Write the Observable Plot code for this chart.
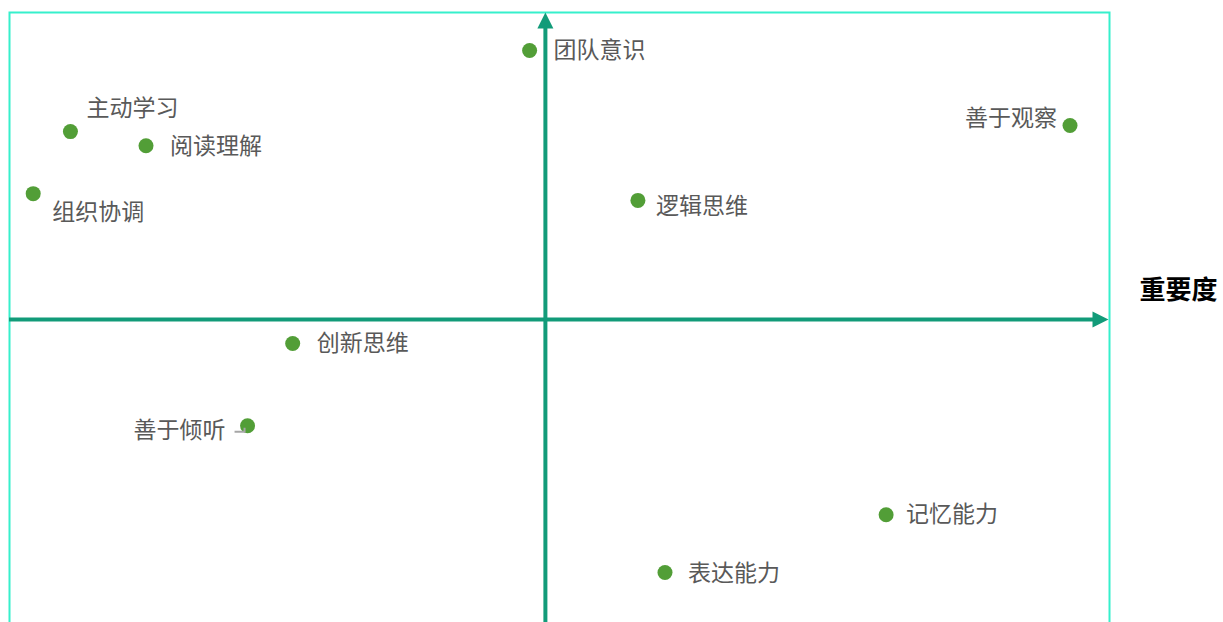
<!DOCTYPE html>
<html>
<head>
<meta charset="utf-8">
<script src="https://cdn.jsdelivr.net/npm/d3@7"></script>
<script src="https://cdn.jsdelivr.net/npm/@observablehq/plot@0.6"></script>
<style>
  html, body { margin: 0; padding: 0; background: #fff; }
  #chart { width: 1223px; height: 622px; overflow: hidden; }
</style>
</head>
<body>
<div id="chart"></div>
<script>
// ---- data ----
const skills = ["团队意识", "主动学习", "阅读理解", "组织协调", "善于观察", "逻辑思维", "创新思维", "善于倾听", "记忆能力", "表达能力"];
const xValues = [-0.14, -4.21, -3.54, -4.54, 4.65, 0.82, -2.24, -2.64, 3.02, 1.06];
const yValues = [4.38, 3.06, 2.83, 2.05, 3.16, 1.94, -0.39, -1.73, -3.18, -4.12];
const xDomain = [-4.75, 5];
const yDomain = [-5, 5];
const axisLabel = "重要度";

// ---- label placement (style, kept apart from data) ----
const placement = {
  "团队意识": {anchor: "start", dx: 24, dy: 0},
  "主动学习": {anchor: "start", dx: 16, dy: -23},
  "阅读理解": {anchor: "start", dx: 24, dy: 1},
  "组织协调": {anchor: "start", dx: 19, dy: 19},
  "善于观察": {anchor: "end", dx: -13, dy: -7},
  "逻辑思维": {anchor: "start", dx: 18, dy: 6},
  "创新思维": {anchor: "start", dx: 24, dy: 0},
  "善于倾听": {anchor: "end", dx: -22, dy: 5, leader: true},
  "记忆能力": {anchor: "start", dx: 20, dy: 0},
  "表达能力": {anchor: "start", dx: 23, dy: 1}
};

const data = skills.map((name, i) => ({name, x: xValues[i], y: yValues[i]}));

const axisColor = "#129b79";
const frameColor = "#36f0cc";
const dotColor = "#529e37";
const font = "'Noto Sans CJK SC', 'Noto Sans', sans-serif";

// filled arrowhead symbol, tip at origin pointing to +x
const arrowHead = {
  draw(context, size) {
    const r = Math.sqrt(size / Math.PI);
    context.moveTo(0, 0);
    context.lineTo(-2 * r, -r);
    context.lineTo(-2 * r, r);
    context.closePath();
  }
};

// small elbow leader line from a left-side label to its point
const leaderSymbol = {
  draw(context) {
    context.moveTo(-13, 6);
    context.lineTo(-3, 6);
    context.lineTo(-3, 2);
  }
};

const labelMarks = data.map(d => Plot.text([d], {
  x: "x", y: "y", text: "name",
  textAnchor: placement[d.name].anchor,
  dx: placement[d.name].dx, dy: placement[d.name].dy,
  fill: "#595959", fontSize: 23, fontFamily: font
}));

const chart = Plot.plot({
  width: 1223,
  height: 622,
  marginLeft: 9,
  marginRight: 114,
  marginTop: 12,
  marginBottom: -4,
  x: {domain: xDomain, axis: null},
  y: {domain: yDomain, axis: null},
  style: {fontFamily: font, background: "#fff", overflow: "hidden"},
  marks: [
    Plot.frame({stroke: frameColor, strokeWidth: 2}),
    Plot.ruleY([0], {stroke: axisColor, strokeWidth: 4, insetRight: 10}),
    Plot.ruleX([0], {stroke: axisColor, strokeWidth: 4, insetTop: 10}),
    Plot.dot([{x: xDomain[1], y: 0}], {x: "x", y: "y", symbol: arrowHead, r: 8, fill: axisColor, stroke: null, dx: -1}),
    Plot.dot([{x: 0, y: yDomain[1]}], {x: "x", y: "y", symbol: arrowHead, r: 8, fill: axisColor, stroke: null, rotate: -90}),
    Plot.dot(data, {x: "x", y: "y", r: 7.5, fill: dotColor, stroke: null}),
    Plot.dot(data.filter(d => placement[d.name].leader), {x: "x", y: "y", symbol: leaderSymbol, fill: "none", stroke: "#a6a6a6", strokeWidth: 2}),
    ...labelMarks,
    Plot.text([axisLabel], {x: xDomain[1], y: 0, text: d => d, textAnchor: "middle", dx: 69, dy: -29,
      fontSize: 26, fontWeight: "bold", fill: "#000", fontFamily: font})
  ]
});

document.getElementById("chart").appendChild(chart);
</script>
</body>
</html>
